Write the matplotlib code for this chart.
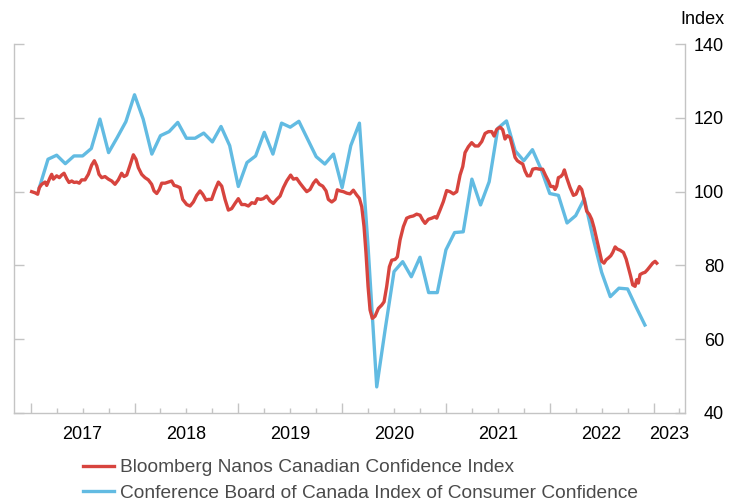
import numpy as np
import matplotlib
matplotlib.use("Agg")
import matplotlib.pyplot as plt
import matplotlib.transforms as mtransforms

plt.rcParams['font.family'] = ['Liberation Sans', 'DejaVu Sans']

# Bloomberg Nanos index (weekly), time in decimal years
red_years = [
    2017.009, 2017.041, 2017.067, 2017.083, 2017.106, 2017.138, 2017.154, 2017.186, 2017.202, 2017.218,
    2017.250, 2017.276, 2017.298, 2017.321, 2017.347, 2017.369, 2017.395, 2017.417, 2017.443, 2017.468,
    2017.491, 2017.523, 2017.555, 2017.587, 2017.613, 2017.636, 2017.658, 2017.684, 2017.716, 2017.748,
    2017.780, 2017.812, 2017.844, 2017.876, 2017.899, 2017.925, 2017.957, 2017.989, 2018.014, 2018.037,
    2018.069, 2018.101, 2018.133, 2018.165, 2018.188, 2018.214, 2018.239, 2018.262, 2018.294, 2018.326,
    2018.358, 2018.381, 2018.406, 2018.438, 2018.464, 2018.503, 2018.535, 2018.567, 2018.599, 2018.631,
    2018.657, 2018.689, 2018.711, 2018.743, 2018.776, 2018.808, 2018.840, 2018.872, 2018.904, 2018.936,
    2018.968, 2019.000, 2019.032, 2019.064, 2019.097, 2019.129, 2019.161, 2019.183, 2019.215, 2019.241,
    2019.273, 2019.305, 2019.337, 2019.370, 2019.402, 2019.434, 2019.466, 2019.504, 2019.530, 2019.562,
    2019.594, 2019.627, 2019.659, 2019.691, 2019.723, 2019.749, 2019.781, 2019.813, 2019.845, 2019.867,
    2019.900, 2019.932, 2019.954, 2019.980,
    2020.012, 2020.044, 2020.076, 2020.108, 2020.140, 2020.166, 2020.189, 2020.211, 2020.230, 2020.250,
    2020.269, 2020.291, 2020.317, 2020.349, 2020.381, 2020.404, 2020.429, 2020.455, 2020.478, 2020.510,
    2020.532, 2020.558, 2020.590, 2020.622, 2020.654, 2020.686, 2020.718, 2020.751, 2020.776, 2020.799,
    2020.831, 2020.863, 2020.895, 2020.911, 2020.943, 2020.975, 2021.007, 2021.039, 2021.072, 2021.104,
    2021.136, 2021.162, 2021.184, 2021.216, 2021.248, 2021.280, 2021.312, 2021.345, 2021.377, 2021.409,
    2021.441, 2021.464, 2021.489,
    2021.522, 2021.547, 2021.569, 2021.592, 2021.618, 2021.643, 2021.666, 2021.688, 2021.714, 2021.740,
    2021.762, 2021.785, 2021.811, 2021.836, 2021.868, 2021.900, 2021.932, 2021.958, 2021.987, 2022.009,
    2022.035, 2022.051, 2022.067, 2022.083, 2022.106, 2022.125, 2022.141, 2022.163, 2022.196, 2022.228,
    2022.253, 2022.286, 2022.308, 2022.331, 2022.356, 2022.382, 2022.404, 2022.427, 2022.453, 2022.478,
    2022.501, 2022.523, 2022.543, 2022.565, 2022.588, 2022.607, 2022.630, 2022.652, 2022.678, 2022.710,
    2022.736, 2022.758, 2022.780, 2022.799, 2022.822, 2022.838, 2022.854, 2022.870, 2022.896, 2022.918,
    2022.941, 2022.966, 2022.992, 2023.015, 2023.031,
]
red_values = [
    100, 99.7, 99.3, 101.1, 102, 102.6, 101.7, 103.8, 104.7, 103.4,
    104.3, 103.8, 104.5, 105, 103.5, 102.5, 102.9, 102.5, 102.6, 102.3,
    103.2, 103.2, 104.7, 107.2, 108.4, 107, 104.7, 103.8, 104.1, 103.4,
    102.9, 102, 103.2, 105, 104.1, 104.5, 107.2, 110, 108.8, 106.5,
    104.7, 103.8, 103.2, 102, 100.2, 99.5, 100.6, 102.3, 102.3, 102.6,
    102.9, 101.7, 101.5, 101.1, 97.9, 96.5, 96.1, 97.2, 99, 100.2,
    99.3, 97.7, 97.9, 97.9, 100.5, 102.6, 101.5, 97.9, 95, 95.4,
    96.8, 98.1, 96.5, 96.5, 96.1, 97, 96.8, 98.1, 97.9, 98.1,
    98.8, 97.5, 96.8, 97.9, 98.8, 101.1, 102.9, 104.5, 103.4, 103.6,
    102.3, 101.1, 100, 100.6, 102.3, 103.2, 102, 101.5, 100.2, 97.9,
    97.2, 97.9, 100.5, 100.2,
    100, 99.6, 99.4, 100.4, 99.1, 98.2, 95.9, 90.5, 83.3, 74.2,
    67.9, 65.6, 66.2, 68.3, 69.2, 70.1, 74.2, 79.6, 81.4, 81.6,
    82.3, 86.9, 90.5, 92.8, 93.2, 93.4, 93.9, 93.6, 92.3, 91.4,
    92.5, 92.8, 93.2, 92.8, 95, 97.3, 100.3, 100, 99.4, 100,
    104.5, 106.8, 110.6, 112.2, 113.3, 112.4, 112.4, 113.6, 115.8, 116.3,
    116.3, 115.1, 116.9,
    117.5, 116.8, 114.3, 115.2, 114.7, 112, 109.3, 108.4, 107.9, 107.5,
    105.6, 104.3, 104.3, 106.1, 106.3, 106.1, 106.1, 104.5, 102.9, 101.4,
    101.4, 100.6, 101.5, 103.8, 104.1, 104.7, 105.9, 103.8, 101.1, 99,
    99.3, 101.4, 100.6, 97.9, 94.7, 93.8, 92.5, 90.2, 87, 83.8,
    81.1, 80.6, 81.5, 82, 82.6, 83.5, 85, 84.4, 84.1, 83.5,
    81.7, 79.3, 77, 74.7, 74.3, 76.1, 75.2, 77.5, 77.9, 78.1,
    78.8, 79.7, 80.6, 81.1, 80.6,
]

# Conference Board index, monthly Jan 2017 .. Nov 2022 (plotted at month end)
blue_values = [
    101.1, 108.8, 109.9, 107.6, 109.7, 109.7, 111.7, 119.7, 110.6, 114.7, 119, 126.3,
    119.7, 110.2, 115.2, 116.3, 118.8, 114.5, 114.5, 115.9, 113.5, 117.7, 112.5, 101.4,
    107.9, 109.7, 116.1, 110.2, 118.6, 117.5, 119.1, 114.3, 109.5, 107.5, 110.2, 101.1,
    112.5, 118.6, 85, 47, 63, 78.3, 81, 76.9, 82.2, 72.6, 72.6, 84.2,
    88.9, 89.1, 103.4, 96.4, 102.7, 117.2, 119.2, 111.1, 108.4, 111.4, 106.1, 99.5,
    99, 91.5, 93.5, 98.1, 87.5, 78.1, 71.5, 73.8, 73.6, 68.6, 63.8,
]
blue_years = 2017 + (np.arange(len(blue_values)) + 1) / 12

year_labels = ['2017', '2018', '2019', '2020', '2021', '2022', '2023']
y_ticks = [40, 60, 80, 100, 120, 140]
series_names = ['Bloomberg Nanos Canadian Confidence Index',
                'Conference Board of Canada Index of Consumer Confidence']

red = '#d7443e'
blue = '#62bbe2'
grey = '#c4c4c4'

x_min, x_max = 2016.839, 2023.303

fig = plt.figure(figsize=(7.29, 5.04), dpi=100)
ax = fig.add_axes([14 / 729, 1 - 412.7 / 504, (685 - 14) / 729, (412.7 - 44.3) / 504])

l_blue, = ax.plot(blue_years, blue_values, color=blue, lw=2.4, zorder=2)
l_red, = ax.plot(red_years, red_values, color=red, lw=2.4, zorder=3, solid_joinstyle='round')

ax.set_xlim(x_min, x_max)
ax.set_ylim(40, 140)

for s in ['left', 'right', 'bottom']:
    ax.spines[s].set_color(grey)
    ax.spines[s].set_linewidth(1.0)
ax.spines['top'].set_visible(False)

# y axis: ticks both sides, labels on right
ax.set_yticks(y_ticks)
ax.tick_params(axis='y', which='major', left=True, right=True, labelleft=False, labelright=True,
               direction='in', length=7.2, width=1.0, color=grey, pad=28, labelsize=13, labelcolor='black')
for t in ax.yaxis.get_major_ticks():
    t.label2.set_horizontalalignment('right')

# x axis: year ticks and quarter ticks, labels centred in each year
years = np.arange(2017, 2024)
ax.set_xticks(years)
ax.set_xticks(np.arange(2017, 2023.3, 0.25), minor=True)
ax.tick_params(axis='x', which='major', direction='in', length=7.2, width=1.0, color=grey, labelbottom=False)
ax.tick_params(axis='x', which='minor', direction='in', length=3.6, width=1.0, color=grey)
trans = mtransforms.blended_transform_factory(ax.transData, ax.transAxes)
for yr, lab in zip(years, year_labels):
    mid = (yr + min(yr + 1, x_max)) / 2
    ax.text(mid, -0.06, lab, transform=trans, ha='center', va='center', fontsize=13, color='black')

fig.text(724 / 729, 1 - 19 / 504, 'Index', ha='right', va='center', fontsize=13, color='black')

fig.legend([l_red, l_blue], series_names, loc='upper left', bbox_to_anchor=(83 / 729, 1 - 459 / 504),
           frameon=False, fontsize=13.8, handlelength=1.6, handletextpad=0.32, borderpad=0,
           borderaxespad=0, labelspacing=0.4, labelcolor='#4a4a4a')

fig.savefig('out.png', dpi=100)
